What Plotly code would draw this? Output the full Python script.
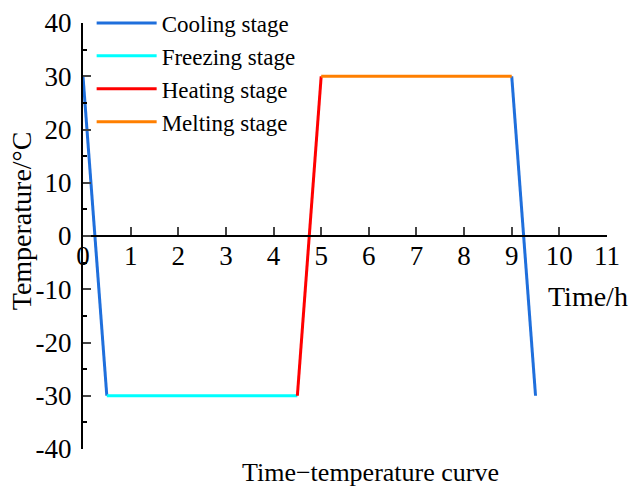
import plotly.graph_objects as go

# Data (time in h, temperature in °C)
cooling_t = [0, 0.5, None, 9, 9.5]
cooling_T = [30, -30, None, 30, -30]
freezing_t = [0.5, 4.5]
freezing_T = [-30, -30]
heating_t = [4.5, 5]
heating_T = [-30, 30]
melting_t = [5, 9]
melting_T = [30, 30]

x_ticks = list(range(0, 12))
y_ticks = list(range(-40, 41, 10))
y_tick_labels = [str(v) for v in y_ticks]

FONT = "Liberation Serif, Times New Roman, serif"

fig = go.Figure()
series = [
    ("Cooling stage", cooling_t, cooling_T, "#1f6fdc"),
    ("Freezing stage", freezing_t, freezing_T, "#00ffff"),
    ("Heating stage", heating_t, heating_T, "#ff0000"),
    ("Melting stage", melting_t, melting_T, "#ff7f00"),
]
for name, xs, ys, col in series:
    fig.add_trace(go.Scatter(x=xs, y=ys, mode="lines", name=name,
                             line=dict(color=col, width=3)))

fig.update_layout(
    width=632, height=486,
    margin=dict(l=83, r=25, t=23, b=37, autoexpand=False),
    plot_bgcolor="white", paper_bgcolor="white",
    font=dict(family=FONT, size=26, color="black"),
    showlegend=True,
    legend=dict(x=0.0165, y=1.0505, xanchor="left", yanchor="top",
                bgcolor="rgba(0,0,0,0)", itemwidth=60,
                font=dict(size=23, family=FONT)),
    xaxis=dict(range=[0, 11], tickvals=x_ticks, ticks="inside", ticklen=8,
               tickwidth=2, showline=True, linecolor="black", linewidth=2,
               showgrid=False, zeroline=False, anchor="free", position=0.5,
               ticklabelstandoff=-4,
               tickfont=dict(size=27, family=FONT)),
    yaxis=dict(range=[-40, 40], tickvals=y_ticks, ticktext=y_tick_labels,
               ticks="inside", ticklen=8,
               tickwidth=2, showline=True, linecolor="black", linewidth=2,
               showgrid=False, zeroline=False, ticklabelstandoff=4,
               minor=dict(dtick=5, ticks="inside", ticklen=4, tickwidth=2,
                          tickcolor="black"),
               tickfont=dict(size=27, family=FONT)),
)

fig.add_annotation(text="Temperature/°C", xref="paper", yref="paper",
                   x=-0.118, y=0.535, textangle=-90, showarrow=False,
                   xanchor="center", yanchor="middle",
                   font=dict(size=28, family=FONT))
fig.add_annotation(text="Time/h", xref="paper", yref="paper",
                   x=1.044, y=0.359, showarrow=False,
                   xanchor="right", yanchor="middle",
                   font=dict(size=28, family=FONT))
fig.add_annotation(text="Time\u2212temperature curve", xref="paper", yref="paper",
                   x=0.30, y=-0.016, showarrow=False,
                   xanchor="left", yanchor="top",
                   font=dict(size=26, family=FONT))

fig.write_html("out.html")
